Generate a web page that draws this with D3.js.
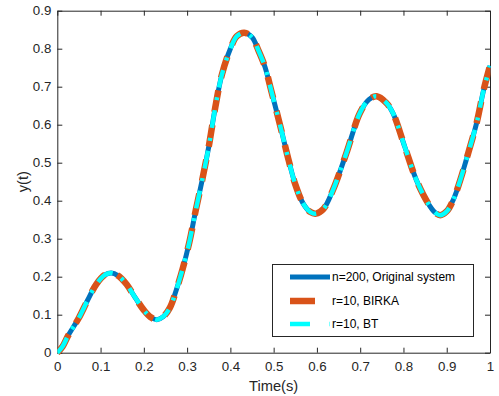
<!DOCTYPE html>
<html>
<head>
<meta charset="utf-8">
<script src="https://cdn.jsdelivr.net/npm/d3@7"></script>
<style>
  html, body { margin: 0; padding: 0; background: #fff; }
  svg { display: block; font-family: "Liberation Sans", Arial, Helvetica, sans-serif; }
</style>
</head>
<body>
<svg id="chart" width="499" height="396"></svg>
<script>
// ---- data ----
const time = [0, 0.012, 0.025, 0.05, 0.07, 0.09, 0.11, 0.125, 0.14, 0.16, 0.18, 0.2, 0.215, 0.23, 0.245, 0.26, 0.275, 0.29, 0.305, 0.32, 0.335, 0.35, 0.365, 0.38, 0.4, 0.415, 0.432, 0.45, 0.465, 0.48, 0.495, 0.515, 0.535, 0.55, 0.568, 0.585, 0.598, 0.615, 0.637, 0.668, 0.699, 0.72, 0.738, 0.76, 0.776, 0.803, 0.83, 0.857, 0.872, 0.885, 0.9, 0.915, 0.93, 0.945, 0.969, 0.985, 1.0];
const yOriginal = [0, 0.016, 0.045, 0.092, 0.138, 0.18, 0.205, 0.21, 0.203, 0.18, 0.145, 0.112, 0.094, 0.087, 0.095, 0.118, 0.165, 0.222, 0.29, 0.375, 0.455, 0.542, 0.645, 0.73, 0.8, 0.833, 0.842, 0.83, 0.795, 0.752, 0.687, 0.598, 0.505, 0.443, 0.393, 0.37, 0.366, 0.378, 0.428, 0.525, 0.63, 0.666, 0.675, 0.658, 0.63, 0.542, 0.454, 0.393, 0.37, 0.362, 0.372, 0.402, 0.45, 0.507, 0.604, 0.69, 0.755];
const yBIRKA = [0, 0.016, 0.045, 0.092, 0.138, 0.18, 0.205, 0.21, 0.203, 0.18, 0.145, 0.112, 0.094, 0.087, 0.095, 0.118, 0.165, 0.222, 0.29, 0.375, 0.455, 0.542, 0.645, 0.73, 0.8, 0.833, 0.842, 0.83, 0.795, 0.752, 0.687, 0.598, 0.505, 0.443, 0.393, 0.37, 0.366, 0.378, 0.428, 0.525, 0.63, 0.666, 0.675, 0.658, 0.63, 0.542, 0.454, 0.393, 0.37, 0.362, 0.372, 0.402, 0.45, 0.507, 0.604, 0.69, 0.755];
const yBT = [0, 0.016, 0.045, 0.092, 0.138, 0.18, 0.205, 0.21, 0.203, 0.18, 0.145, 0.112, 0.094, 0.087, 0.095, 0.118, 0.165, 0.222, 0.29, 0.375, 0.455, 0.542, 0.645, 0.73, 0.8, 0.833, 0.842, 0.83, 0.795, 0.752, 0.687, 0.598, 0.505, 0.443, 0.393, 0.37, 0.366, 0.378, 0.428, 0.525, 0.63, 0.666, 0.675, 0.658, 0.63, 0.542, 0.454, 0.393, 0.37, 0.362, 0.372, 0.402, 0.45, 0.507, 0.604, 0.69, 0.755];
const seriesNames = ["n=200, Original system", "r=10, BIRKA", "r=10, BT"];
const xTicks = [0, 0.1, 0.2, 0.3, 0.4, 0.5, 0.6, 0.7, 0.8, 0.9, 1];
const yTicks = [0, 0.1, 0.2, 0.3, 0.4, 0.5, 0.6, 0.7, 0.8, 0.9];
const xLabel = "Time(s)";
const yLabel = "y(t)";

// ---- layout ----
const svg = d3.select("#chart");
const L = 57.3, R = 490, T = 10.7, B = 352.7;
const axisColor = "#262626";

const x = d3.scaleLinear().domain([0, 1]).range([L, R]);
const y = d3.scaleLinear().domain([0, 0.9]).range([B, T]);

const styles = [
  { color: "#0072BD", width: 5, dash: null, legendDash: null },
  { color: "#D95319", width: 6.5, dash: "22,13", legendDash: "25,20" },
  { color: "#00FFFF", width: 4.5, dash: "18,10,3,10", legendDash: "20,19.5,1.5,20" }
];

// axes
const fmt = d => d === 0 ? "0" : (d === 1 ? "1" : d3.format(".1f")(d));
function styleAxis(g) {
  g.select(".domain").attr("stroke", axisColor).attr("stroke-width", 1);
  g.selectAll(".tick line").attr("stroke", axisColor).attr("stroke-width", 1);
  g.selectAll(".tick text").attr("fill", axisColor).style("font-size", "13.3px")
    .style("font-family", '"Liberation Sans", Arial, sans-serif');
}
svg.append("g").attr("transform", `translate(0,${B})`)
  .call(d3.axisBottom(x).tickValues(xTicks).tickFormat(fmt).tickSizeInner(-5).tickSizeOuter(0).tickPadding(9))
  .call(styleAxis);
svg.append("g").attr("transform", `translate(${L},0)`)
  .call(d3.axisLeft(y).tickValues(yTicks).tickFormat(fmt).tickSizeInner(-5).tickSizeOuter(0).tickPadding(6))
  .call(styleAxis);
svg.append("g").attr("transform", `translate(0,${T})`)
  .call(d3.axisTop(x).tickValues(xTicks).tickFormat("").tickSizeInner(-5).tickSizeOuter(0))
  .call(styleAxis);
svg.append("g").attr("transform", `translate(${R},0)`)
  .call(d3.axisRight(y).tickValues(yTicks).tickFormat("").tickSizeInner(-5).tickSizeOuter(0))
  .call(styleAxis);

// axis labels
svg.append("text").attr("x", (L + R) / 2).attr("y", 391)
  .attr("text-anchor", "middle").attr("fill", axisColor)
  .style("font-size", "14.7px").text(xLabel);
svg.append("text").attr("transform", `translate(28,${(T + B) / 2}) rotate(-90)`)
  .attr("text-anchor", "middle").attr("fill", axisColor)
  .style("font-size", "14.7px").text(yLabel);

// lines
svg.append("clipPath").attr("id", "clip").append("rect")
  .attr("x", L).attr("y", T - 3).attr("width", R - L + 0.5).attr("height", B - T + 6);
const line = d3.line().x(d => x(d[0])).y(d => y(d[1])).curve(d3.curveCatmullRom.alpha(0.5));
const allSeries = [yOriginal, yBIRKA, yBT];
const plotG = svg.append("g").attr("clip-path", "url(#clip)");
allSeries.forEach((vals, i) => {
  const s = styles[i];
  const p = plotG.append("path")
    .datum(time.map((t, j) => [t, vals[j]]))
    .attr("d", line)
    .attr("fill", "none")
    .attr("stroke", s.color)
    .attr("stroke-width", s.width)
    .attr("stroke-linejoin", "round");
  if (s.dash) p.attr("stroke-dasharray", s.dash);
});

// legend
const lg = svg.append("g");
lg.append("rect").attr("x", 272.5).attr("y", 264.5).attr("width", 201).attr("height", 72)
  .attr("fill", "#fff").attr("stroke", axisColor).attr("stroke-width", 1);
const legendY = [277, 301, 324];
seriesNames.forEach((name, i) => {
  const s = styles[i];
  const l = lg.append("line").attr("x1", 290).attr("x2", 330)
    .attr("y1", legendY[i]).attr("y2", legendY[i])
    .attr("stroke", s.color).attr("stroke-width", s.width);
  if (s.legendDash) l.attr("stroke-dasharray", s.legendDash);
  lg.append("text").attr("x", 332).attr("y", legendY[i] + 4.3)
    .attr("fill", "#000").style("font-size", "12px").text(name);
});
</script>
</body>
</html>
